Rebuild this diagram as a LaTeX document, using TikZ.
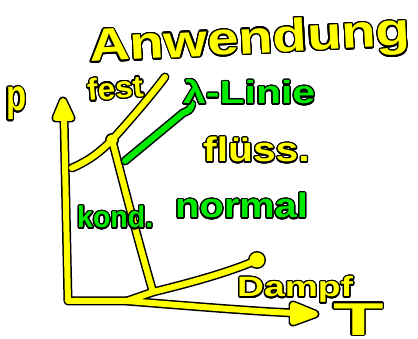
\documentclass[tikz,border=0pt]{standalone}
\usepackage{fontspec}
\setmainfont{Liberation Sans}
\usepackage{contour}
\contourlength{1.3pt}
\contournumber{24}
\definecolor{hwy}{RGB}{255,255,0}
\definecolor{hwg}{RGB}{0,235,0}
\newcommand{\hwt}[4]{{\color{#1}\contour{black}{\scalebox{#3}[1]{\fontsize{#2}{#2}\selectfont\bfseries #4}}}}
\begin{document}
\begin{tikzpicture}[x=1pt,y=-1pt,
  outl/.style={line width=9pt, black, line cap=round, line join=round},
  fy/.style={line width=6pt, hwy, line cap=round, line join=round},
  fg/.style={line width=6pt, hwg, line cap=round, line join=round},
  lbl/.style={inner sep=0pt, anchor=base west}]
\useasboundingbox (0,0) rectangle (418,339);
\coordinate (top) at (64,117);
\coordinate (O) at (68,301);
\coordinate (A) at (127,301);
\coordinate (xe) at (294,313);
\coordinate (tp) at (112,140);
\coordinate (lb) at (72,168);
\coordinate (fe) at (165,77);
\coordinate (vb) at (153,292);
\coordinate (cp) at (257,260);
\coordinate (g1) at (125,161);
\coordinate (g2) at (192,104);
\coordinate (va) at (63,101);
\coordinate (ha) at (315,314);
% black outlines
\draw[outl] (top) -- (O) -- (A) .. controls (190,306) and (250,311) .. (xe);
\draw[outl] (lb) .. controls (90,160) and (100,152) .. (tp);
\draw[outl] (tp) .. controls (130,120) and (150,97) .. (fe);
\draw[outl] (tp) .. controls (120,170) and (135,230) .. (vb);
\draw[outl] (A) -- (vb) .. controls (190,283) and (230,272) .. (cp);
\filldraw[outl] (va) -- (71,118) -- (56,118) -- cycle;
\filldraw[outl] (ha) -- (293,305) -- (293,322) -- cycle;
\fill[black] (tp) circle (7);
\fill[black] (cp) circle (9);
% yellow
\draw[fy] (top) -- (O) -- (A) .. controls (190,306) and (250,311) .. (xe);
\draw[fy] (lb) .. controls (90,160) and (100,152) .. (tp);
\draw[fy] (tp) .. controls (130,120) and (150,97) .. (fe);
\draw[fy] (tp) .. controls (120,170) and (135,230) .. (vb);
\draw[fy] (A) -- (vb) .. controls (190,283) and (230,272) .. (cp);
\filldraw[fy] (va) -- (71,118) -- (56,118) -- cycle;
\filldraw[fy] (ha) -- (293,305) -- (293,322) -- cycle;
\fill[hwy] (tp) circle (5.5);
\fill[hwy] (cp) circle (7.5);
% green line
\draw[outl] (g1) -- (183,113) .. controls (190,110) .. (g2);
\draw[fg] (g1) -- (183,113) .. controls (190,110) .. (g2);
% texts
\node[lbl, rotate=3] (anw) at (90,62) {\hwt{hwy}{46}{1.22}{Anwendung}};
\node[lbl] (p) at (6,111) {\hwt{hwy}{44}{0.75}{p}};
\node[lbl, rotate=5] (fest) at (88,101) {\hwt{hwy}{30}{1.05}{fest}};
\node[lbl] (lam) at (183,104) {\hwt{hwg}{32}{1.28}{λ-Linie}};
\node[lbl] (fl) at (203,162) {\hwt{hwy}{34}{1.2}{flüss.}};
\node[lbl] (kond) at (77,228) {\hwt{hwg}{30}{0.95}{kond.}};
\node[lbl] (norm) at (175,218) {\hwt{hwg}{34}{1.17}{normal}};
\node[lbl] (dampf) at (237,297) {\hwt{hwy}{28}{1.33}{Dampf}};
\node[lbl] (T) at (333,335) {\hwt{hwy}{46}{1.8}{T}};
\end{tikzpicture}
\end{document}
